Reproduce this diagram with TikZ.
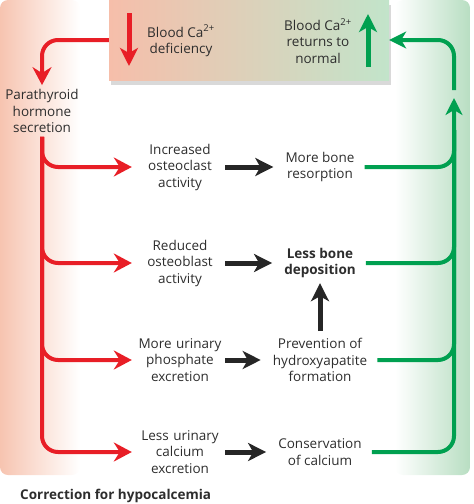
\documentclass[tikz,border=0pt]{standalone}
\usepackage{fontspec}
\setmainfont{Open Sans}
\usetikzlibrary{arrows.meta,positioning,shadows}

\definecolor{pthred}{RGB}{232,30,38}
\definecolor{okgreen}{RGB}{0,160,80}
\definecolor{bandred}{RGB}{247,196,176}
\definecolor{bandgreen}{RGB}{184,222,194}
\definecolor{boxred}{RGB}{246,190,170}
\definecolor{boxgreen}{RGB}{194,228,202}
\definecolor{txt}{RGB}{45,45,45}

\begin{document}
\begin{tikzpicture}[
    x=1pt, y=-1pt,
    every node/.style={text=txt,font=\fontsize{13.5}{16.5}\selectfont,align=center,inner sep=4pt},
    midbox/.style={text width=88pt,inner sep=0pt},
    redline/.style={draw=pthred,line width=4pt,rounded corners=16pt},
    redarrow/.style={redline,-{Stealth[length=18pt,width=19pt,inset=6pt]}},
    greenline/.style={draw=okgreen,line width=4pt,rounded corners=16pt},
    greenarrow/.style={greenline,-{Stealth[length=17pt,width=17pt,inset=5pt]}},
    blackarrow/.style={draw=black!85,line width=5pt,-{Stealth[length=18pt,width=18pt,inset=5pt]},shorten <=1pt,shorten >=8pt}
]
    \useasboundingbox (0,0) rectangle (474,504);

    \shade[left color=bandred,middle color=bandred!50,right color=white,rounded corners=8pt] (0,0) rectangle (80,475);
    \shade[left color=white,middle color=bandgreen!45,right color=bandgreen,rounded corners=8pt] (395,0) rectangle (470,475);

    \node (box) [minimum width=280pt,minimum height=80pt,left color=boxred,right color=boxgreen,
        drop shadow={shadow xshift=2pt,shadow yshift=-5pt,opacity=0.3}] at (249,40) {};
    \draw[pthred,line width=5pt,-{Stealth[length=18pt,width=18pt,inset=5pt]}] (129,13) -- (129,66);
    \draw[okgreen,line width=5pt,-{Stealth[length=18pt,width=18pt,inset=5pt]}] (368,67) -- (368,14);
    \node (dfc) at (181,41) {Blood Ca\textsuperscript{2+}\\deficiency};
    \node (nrm) at (318,41) {Blood Ca\textsuperscript{2+}\\returns to\\normal};

    \node (pth) at (42,111) {Parathyroid\\hormone\\secretion};

    \node (osc) [midbox] at (180,167) {Increased\\osteoclast\\activity};
    \node (obl) [midbox] at (180,263) {Reduced\\osteoblast\\activity};
    \node (pho) [midbox] at (180,360) {More urinary\\phosphate\\excretion};
    \node (cal) [midbox] at (180,452) {Less urinary\\calcium\\excretion};

    \node (res) at (320,167) {More bone\\resorption};
    \node (dep) [font=\fontsize{13.5}{16.5}\selectfont\bfseries] at (320,263) {Less bone\\deposition};
    \node (pre) at (320,360) {Prevention of\\hydroxyapatite\\formation};
    \node (cons) at (320,452) {Conservation\\of calcium};

    \node (title) [anchor=west,inner sep=0pt,font=\fontsize{13.5}{15}\selectfont\bfseries] at (20,496) {Correction for hypocalcemia};

    \coordinate (gtip) at (454,98);
    \coordinate (gjoin) at (454,130);
    \coordinate (gtop) at (454,90);

    \draw[redarrow] (box.west) -| (pth.north);
    \draw[redarrow,shorten >=4pt] (pth.south) |- (osc.west);
    \draw[redarrow,shorten >=4pt] (pth.south) |- (obl.west);
    \draw[redarrow,shorten >=4pt] (pth.south) |- (pho.west);
    \draw[redarrow,shorten >=4pt] (pth.south) |- (cal.west);

    \draw[blackarrow] (osc.east) -- (res.west);
    \draw[blackarrow] (obl.east) -- (dep.west);
    \draw[blackarrow] (pho.east) -- (pre.west);
    \draw[blackarrow] (cal.east) -- (cons.west);
    \draw[blackarrow,shorten <=3pt,shorten >=1pt] (pre.north) -- (dep.south);

    \draw[greenline,shorten <=6pt] (res.east) -| (gjoin);
    \draw[greenline,shorten <=6pt] (dep.east) -| (gjoin);
    \draw[greenline,shorten <=6pt] (pre.east) -| (gjoin);
    \draw[greenarrow,shorten <=6pt] (cons.east) -| (gtip);
    \draw[greenarrow] (gtop) |- (box.east);
\end{tikzpicture}
\end{document}
